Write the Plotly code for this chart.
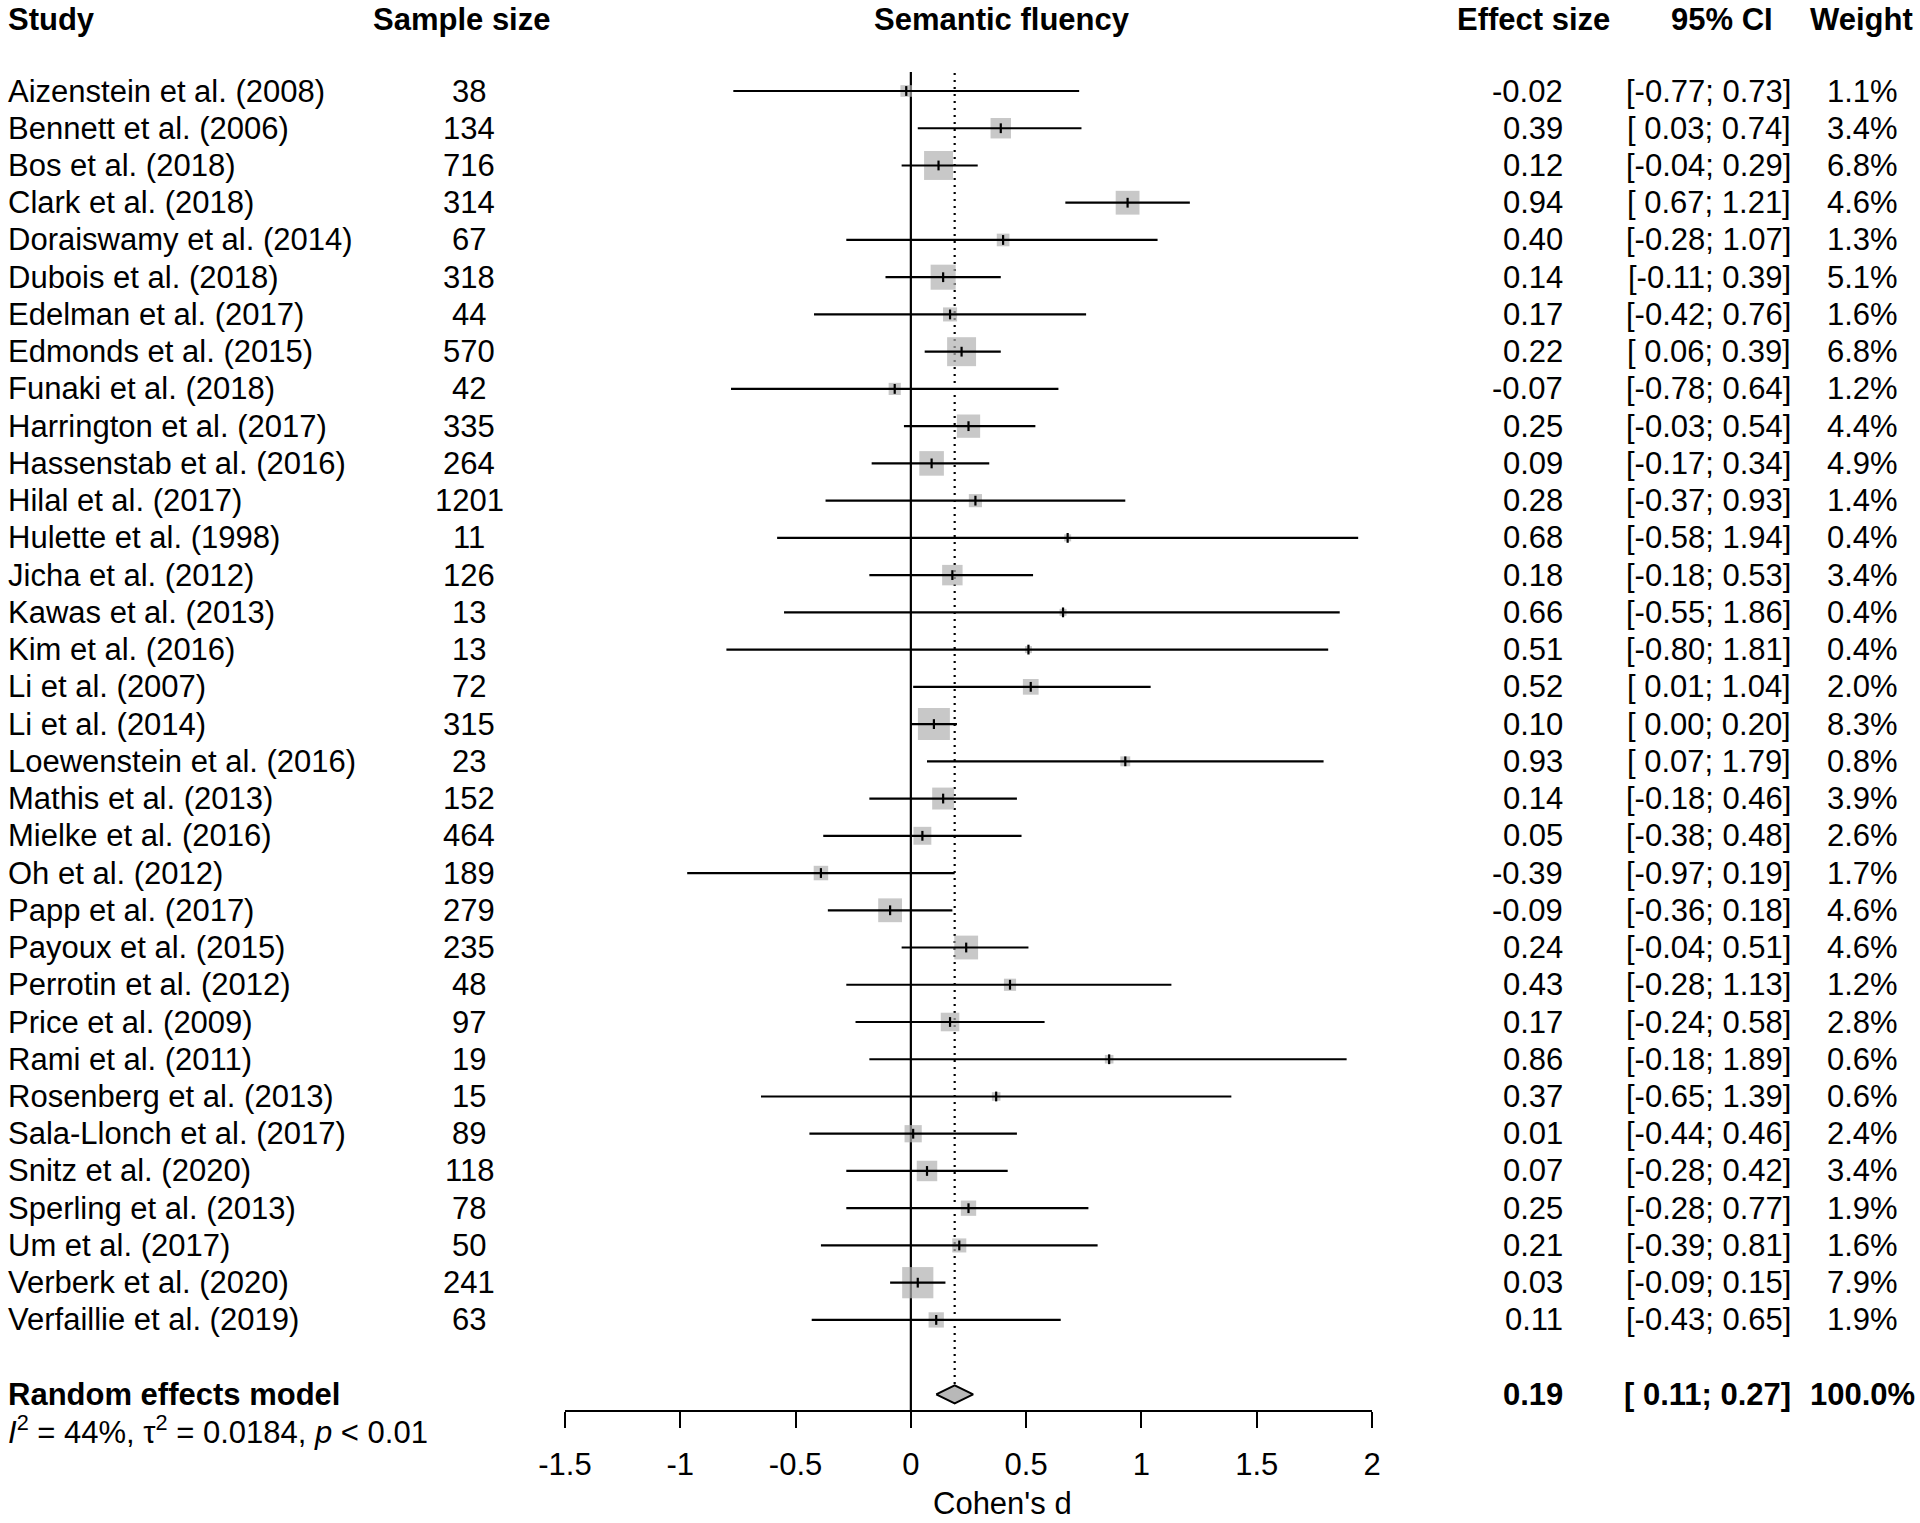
import plotly.graph_objects as go

studies = ["Aizenstein et al. (2008)", "Bennett et al. (2006)", "Bos et al. (2018)", "Clark et al. (2018)",
           "Doraiswamy et al. (2014)", "Dubois et al. (2018)", "Edelman et al. (2017)", "Edmonds et al. (2015)",
           "Funaki et al. (2018)", "Harrington et al. (2017)", "Hassenstab et al. (2016)", "Hilal et al. (2017)",
           "Hulette et al. (1998)", "Jicha et al. (2012)", "Kawas et al. (2013)", "Kim et al. (2016)",
           "Li et al. (2007)", "Li et al. (2014)", "Loewenstein et al. (2016)", "Mathis et al. (2013)",
           "Mielke et al. (2016)", "Oh et al. (2012)", "Papp et al. (2017)", "Payoux et al. (2015)",
           "Perrotin et al. (2012)", "Price et al. (2009)", "Rami et al. (2011)", "Rosenberg et al. (2013)",
           "Sala-Llonch et al. (2017)", "Snitz et al. (2020)", "Sperling et al. (2013)", "Um et al. (2017)",
           "Verberk et al. (2020)", "Verfaillie et al. (2019)"]
sample_size = [38, 134, 716, 314, 67, 318, 44, 570, 42, 335, 264, 1201, 11, 126, 13, 13, 72, 315, 23, 152,
               464, 189, 279, 235, 48, 97, 19, 15, 89, 118, 78, 50, 241, 63]
effect = [-0.02, 0.39, 0.12, 0.94, 0.40, 0.14, 0.17, 0.22, -0.07, 0.25, 0.09, 0.28, 0.68, 0.18, 0.66, 0.51,
          0.52, 0.10, 0.93, 0.14, 0.05, -0.39, -0.09, 0.24, 0.43, 0.17, 0.86, 0.37, 0.01, 0.07, 0.25, 0.21,
          0.03, 0.11]
ci_low = [-0.77, 0.03, -0.04, 0.67, -0.28, -0.11, -0.42, 0.06, -0.78, -0.03, -0.17, -0.37, -0.58, -0.18,
          -0.55, -0.80, 0.01, 0.00, 0.07, -0.18, -0.38, -0.97, -0.36, -0.04, -0.28, -0.24, -0.18, -0.65,
          -0.44, -0.28, -0.28, -0.39, -0.09, -0.43]
ci_high = [0.73, 0.74, 0.29, 1.21, 1.07, 0.39, 0.76, 0.39, 0.64, 0.54, 0.34, 0.93, 1.94, 0.53, 1.86, 1.81,
           1.04, 0.20, 1.79, 0.46, 0.48, 0.19, 0.18, 0.51, 1.13, 0.58, 1.89, 1.39, 0.46, 0.42, 0.77, 0.81,
           0.15, 0.65]
weight = [1.1, 3.4, 6.8, 4.6, 1.3, 5.1, 1.6, 6.8, 1.2, 4.4, 4.9, 1.4, 0.4, 3.4, 0.4, 0.4, 2.0, 8.3, 0.8,
          3.9, 2.6, 1.7, 4.6, 4.6, 1.2, 2.8, 0.6, 0.6, 2.4, 3.4, 1.9, 1.6, 7.9, 1.9]

re_label = "Random effects model"
re_effect = 0.19
re_low = 0.11
re_high = 0.27
re_weight = 100.0
het_text = "<i>I</i><sup>2</sup> = 44%, τ<sup>2</sup> = 0.0184, <i>p</i> &lt; 0.01"

headers = ["Study", "Sample size", "Semantic fluency", "Effect size", "95% CI", "Weight"]
tick_vals = [-1.5, -1, -0.5, 0, 0.5, 1, 1.5, 2]
tick_text = ["-1.5", "-1", "-0.5", "0", "0.5", "1", "1.5", "2"]
x_title = "Cohen's d"

# ---------- layout geometry (page pixels; body margin removed by post_script) ----------
W, H = 1920, 1523
FONT = "Liberation Sans, Arial, Helvetica, sans-serif"
FS = 31
ROW0_PX, ROW_PX = 91, 37.24
AX_LEFT_PX, AX_RIGHT_PX = 565, 1372
AXIS_PX = 1411
n = len(studies)
re_row = n + 1


def px2row(p):
    return (p - ROW0_PX) / ROW_PX


def xp(p):
    return p / W


def fmt(v):
    return f"{v:.2f}"


def fmt_ci(lo, hi):
    a = f"{lo:.2f}" if lo < 0 else f" {lo:.2f}"
    return f"[{a}; {hi:.2f}]"


fig = go.Figure()

rows = list(range(n))
# boxes
fig.add_trace(go.Scatter(
    x=effect, y=rows, mode="markers",
    marker=dict(symbol="square", size=[11.1 * w ** 0.5 for w in weight], color="#b0b0b0",
                line=dict(width=0)),
    hoverinfo="skip", showlegend=False))
# CI lines
lx, ly = [], []
for i in range(n):
    lx += [ci_low[i], ci_high[i], None]
    ly += [i, i, None]
fig.add_trace(go.Scatter(x=lx, y=ly, mode="lines", line=dict(color="black", width=2.2),
                         hoverinfo="skip", showlegend=False))
# point ticks
fig.add_trace(go.Scatter(
    x=effect, y=rows, mode="markers",
    marker=dict(symbol="line-ns-open", size=7, color="black", line=dict(width=2.2, color="black")),
    hoverinfo="skip", showlegend=False))
# diamond
dh = 9 / ROW_PX
fig.add_trace(go.Scatter(
    x=[re_low, re_effect, re_high, re_effect, re_low],
    y=[re_row, re_row - dh, re_row, re_row + dh, re_row],
    mode="lines", fill="toself", fillcolor="#b8b8b8",
    line=dict(color="black", width=2), hoverinfo="skip", showlegend=False))

# reference lines
fig.add_shape(type="line", xref="x", yref="y", x0=0, x1=0, y0=px2row(72), y1=px2row(AXIS_PX),
              line=dict(color="black", width=2.2), layer="below")
fig.add_shape(type="line", xref="x", yref="y", x0=re_effect, x1=re_effect, y0=px2row(73),
              y1=re_row - dh, line=dict(color="black", width=2.2, dash="2px,5px"), layer="below")

ann = []


def text(x_px, row, s, anchor, bold=False, size=FS):
    if bold:
        s = f"<b>{s}</b>"
    ann.append(dict(x=xp(x_px), xref="paper", y=row, yref="y", text=s, showarrow=False,
                    xanchor=anchor, yanchor="middle", font=dict(family=FONT, size=size, color="black")))


hdr_row = px2row(19)
hdr_pos = [(6, "left"), (461, "center"), (1002, "center"), (1533, "center"), (1722, "center"),
           (1861, "center")]
for h, (hx, an) in zip(headers, hdr_pos):
    text(hx, hdr_row, h, an, bold=True)

for i in range(n):
    text(6, i, studies[i], "left")
    text(469, i, str(sample_size[i]), "center")
    text(1565, i, fmt(effect[i]), "right")
    text(1793, i, fmt_ci(ci_low[i], ci_high[i]), "right")
    text(1862, i, f"{weight[i]:.1f}%", "center")

text(6, re_row, re_label, "left", bold=True)
text(1565, re_row, fmt(re_effect), "right", bold=True)
text(1793, re_row, fmt_ci(re_low, re_high), "right", bold=True)
text(1862, re_row, f"{re_weight:.1f}%", "center", bold=True)
text(6, px2row(1430), het_text, "left")
text(1002, px2row(1503), x_title, "center")

fig.update_layout(
    template="none",
    width=W, height=H, margin=dict(l=0, r=0, t=0, b=0, pad=0, autoexpand=False),
    paper_bgcolor="white", plot_bgcolor="white",
    annotations=ann, showlegend=False, hovermode=False,
    xaxis=dict(range=[-1.5, 2], domain=[xp(AX_LEFT_PX), xp(AX_RIGHT_PX)], anchor="free",
               position=1 - AXIS_PX / H, showline=True, linecolor="black", linewidth=2.2,
               ticks="outside", ticklen=16, tickwidth=2.2, tickcolor="black", automargin=False,
               tickvals=tick_vals, ticktext=tick_text, showgrid=False, zeroline=False,
               tickfont=dict(family=FONT, size=FS, color="black"), ticklabelstandoff=10),
    yaxis=dict(range=[px2row(H), px2row(0)], domain=[0, 1], visible=False, showgrid=False,
               zeroline=False, automargin=False),
)

fig.write_html(
    "out.html",
    config={"displayModeBar": False},
    post_script="document.body.style.margin='0px';document.body.style.padding='0px';"
                "document.documentElement.style.overflow='hidden';",
)
